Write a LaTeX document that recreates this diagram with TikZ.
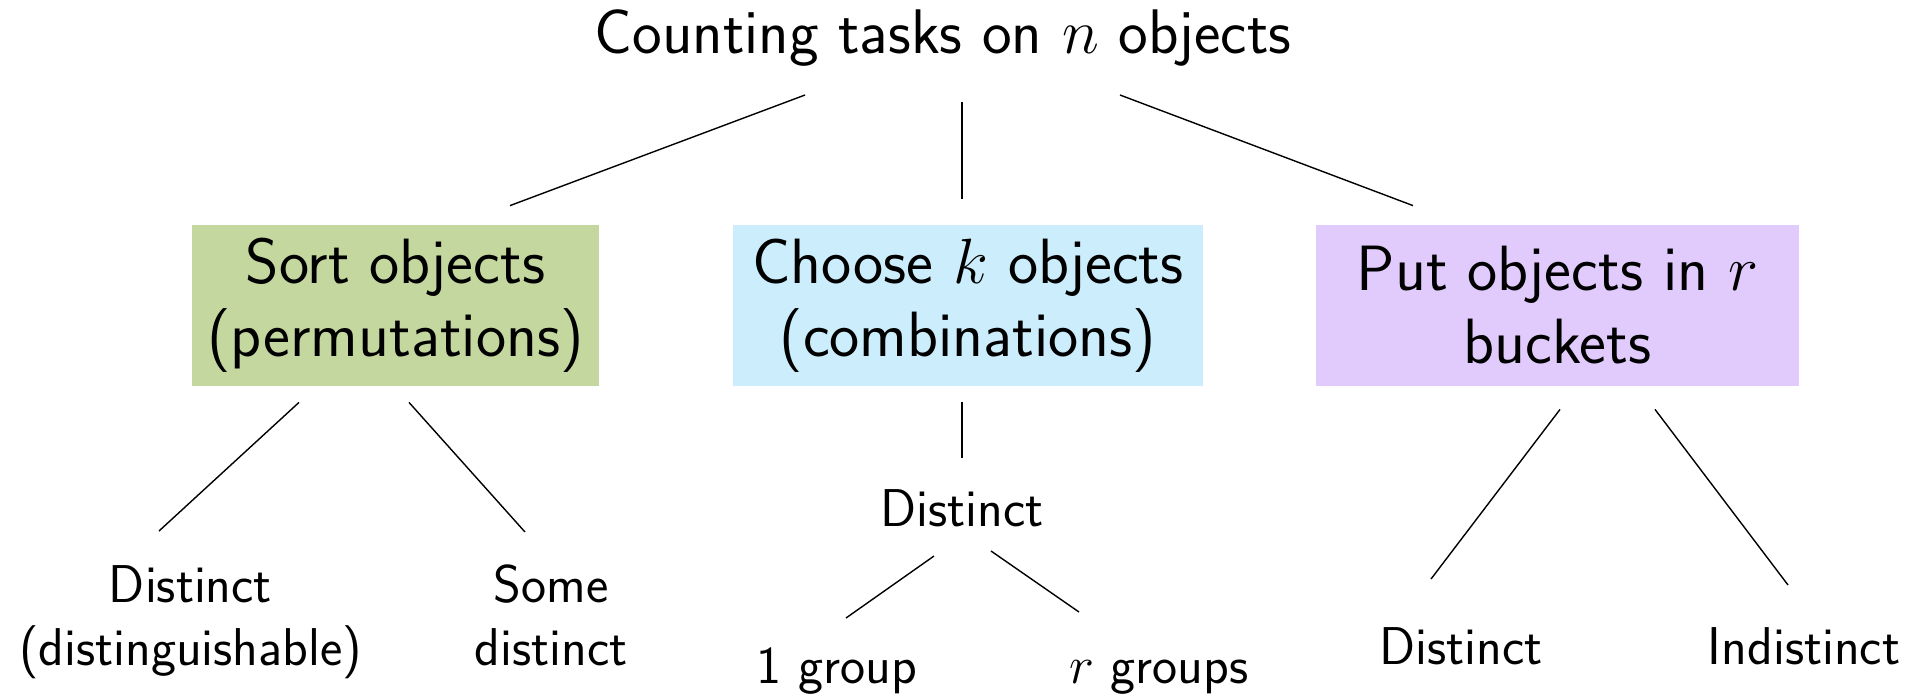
\RequirePackage{fix-cm}
\documentclass[tikz,border=0pt]{standalone}
\definecolor{boxgreen}{HTML}{C4D79F}
\definecolor{boxblue}{HTML}{CCEEFC}
\definecolor{boxpurple}{HTML}{E1CAFC}
\newcommand\lowr[1]{\raisebox{-3.5pt}{#1}}
\tikzset{
  conn/.style={draw, line width=0.7pt},
  lbl/.style={font=\sffamily\fontsize{26.6}{31.5}\selectfont, inner sep=0pt, anchor=base, align=center},
  ttl/.style={font=\sffamily\fontsize{31.5}{36.5}\selectfont, inner sep=0pt, anchor=base},
  boxnode/.style={font=\sffamily\fontsize{32}{36.5}\selectfont, inner sep=0pt, align=center, minimum height=80.5pt},
}
\begin{document}
\begin{tikzpicture}[x=0.5pt,y=-0.5pt]
\useasboundingbox (0,0) rectangle (1927,698);
\node[ttl] (title) at (943,53) {Counting tasks on $n$ objects};
\node[boxnode, fill=boxgreen, minimum width=203.5pt] (sort) at (395.5,305.5) {\lowr{Sort objects}\\\lowr{(permutations)}};
\node[boxnode, fill=boxblue, minimum width=235pt] (choose) at (968,305.5) {\lowr{Choose $k$ objects}\\\lowr{(combinations)}};
\node[boxnode, fill=boxpurple, minimum width=241.5pt] (put) at (1557.5,305.5) {\lowr{Put objects in $r$}\\\lowr{buckets}};
\node[lbl] (d1) at (190.5,665) {Distinct\\(distinguishable)};
\node[lbl] (d2) at (551,665) {Some\\distinct};
\node[lbl] (mid) at (962,526) {Distinct};
\node[lbl] (g1) at (837,683) {1 group};
\node[lbl] (g2) at (1159,683) {$r$ groups};
\node[lbl] (d3) at (1461,664) {Distinct};
\node[lbl] (d4) at (1804,664) {Indistinct};
\draw[conn] ([shift={(-138,42)}]title.base) -- ([shift={(114.5,-19)}]sort.north);
\draw[conn] ([shift={(19,49)}]title.base) -- ([shift={(-6,-26)}]choose.north);
\draw[conn] ([shift={(177,42)}]title.base) -- ([shift={(-144.5,-19)}]put.north);
\draw[conn] ([shift={(-96.5,16)}]sort.south) -- ([shift={(-31.5,-134)}]d1.base);
\draw[conn] ([shift={(13.5,16)}]sort.south) -- ([shift={(-26,-133)}]d2.base);
\draw[conn] ([shift={(-6,16)}]choose.south) -- ([shift={(0,-68)}]mid.base);
\draw[conn] ([shift={(-28,30)}]mid.base) -- ([shift={(9,-65)}]g1.base);
\draw[conn] ([shift={(29,25)}]mid.base) -- ([shift={(-80,-71)}]g2.base);
\draw[conn] ([shift={(2.5,23)}]put.south) -- ([shift={(-30,-85)}]d3.base);
\draw[conn] ([shift={(97.5,23)}]put.south) -- ([shift={(-16,-79)}]d4.base);
\end{tikzpicture}
\end{document}
